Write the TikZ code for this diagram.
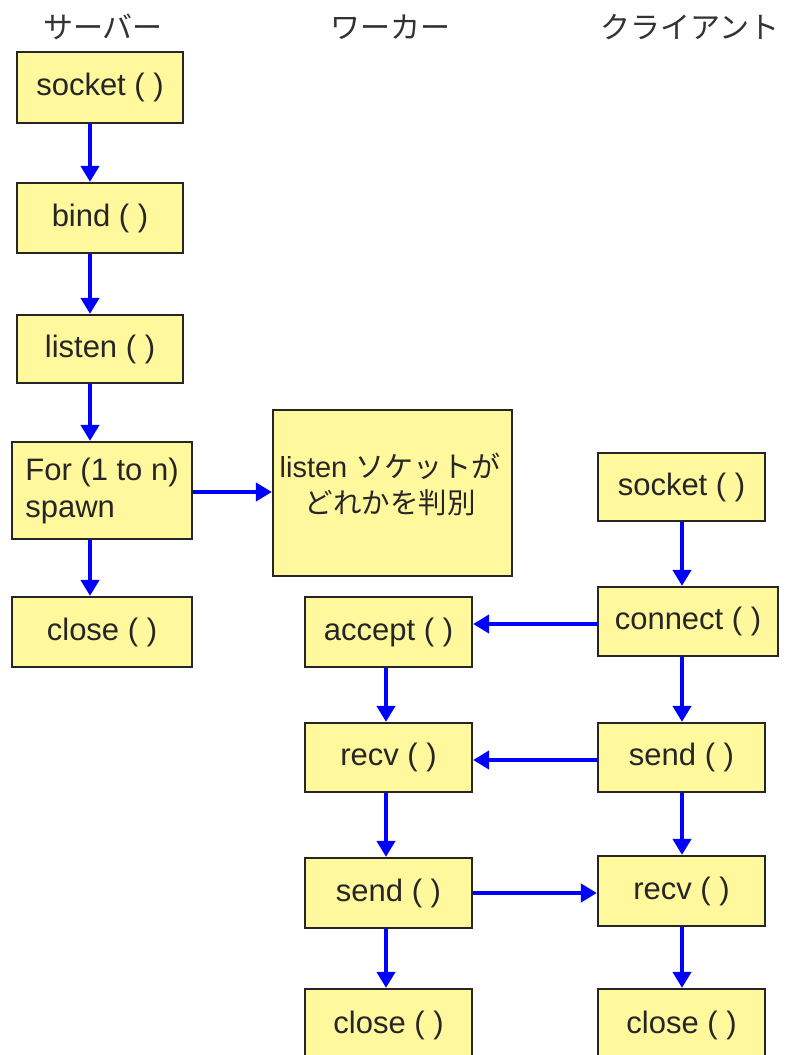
\documentclass[tikz,border=0pt]{standalone}
\usepackage{fontspec}
\setmainfont{Liberation Sans}
\newfontfamily\jp{Noto Sans CJK JP}
\usetikzlibrary{arrows.meta}
\definecolor{boxfill}{HTML}{FFF89C}
\definecolor{arrblue}{HTML}{0000FF}
\newcommand{\bx}[6]{\node[box,minimum width={(#4-#2)*1pt},minimum height={(#5-#3)*1pt}] (#1) at ({(#2+#4)/2},{(#3+#5)/2}) {#6};}
\begin{document}
\begin{tikzpicture}[x=1pt,y=-1pt,
  box/.style={draw=black!85,line width=2.2pt,fill=boxfill,inner sep=0pt,font=\fontsize{31}{37}\selectfont,text=black!85},
  arr/.style={draw=arrblue,line width=4pt,-{Triangle[length=16pt,width=18pt]}},
  hdr/.style={font=\jp\fontsize{30}{36}\selectfont,text=black!80,inner sep=0pt}]
\path[use as bounding box] (0,0) rectangle (786,1055);
\clip (0,0) rectangle (786,1055);
\fill[white] (0,0) rectangle (786,1055);
% headers
\node[hdr] (h1) at (103,27) {サーバー};
\node[hdr] (h2) at (390,27) {ワーカー};
\node[hdr] (h3) at (690,27) {クライアント};
% server
\bx{s1}{17}{52}{183}{123}{socket ( )}
\bx{s2}{17}{183}{183}{253}{bind ( )}
\bx{s3}{17}{315}{183}{383}{listen ( )}
\node[box,minimum width=180pt,minimum height=97pt,align=left] (s4) at (102,490.5) {For (1 to n)\\spawn};
\bx{s5}{12}{597}{192}{667}{close ( )}
% worker
\bx{w0}{273}{410}{512}{576}{}
\node[inner sep=0pt,align=center,font=\fontsize{29}{36}\selectfont,text=black!85] (w0t) at (390,484) {listen {\jp ソケットが}\\{\jp\fontsize{28.5}{36}\selectfont どれかを判別}};
\bx{w1}{305}{597}{472}{667}{accept ( )}
\bx{w2}{305}{723}{472}{792}{recv ( )}
\bx{w3}{305}{858}{472}{928}{send ( )}
\bx{w4}{305}{989}{472}{1062}{close ( )}
% client
\bx{c1}{598}{453}{765}{521}{socket ( )}
\bx{c2}{598}{587}{778}{656}{connect ( )}
\bx{c3}{598}{723}{765}{792}{send ( )}
\bx{c4}{598}{856}{765}{926}{recv ( )}
\bx{c5}{598}{989}{765}{1062}{close ( )}
% arrow lanes
\coordinate (sx) at (90,0);
\coordinate (wx) at (386,0);
\coordinate (cx) at (682,0);
\coordinate (ya) at (0,492);
\coordinate (yb) at (0,624);
\coordinate (yc) at (0,760);
\coordinate (yd) at (0,893);
\draw[arr] (s1.south -| sx) -- (s2.north -| sx);
\draw[arr] (s2.south -| sx) -- (s3.north -| sx);
\draw[arr] (s3.south -| sx) -- (s4.north -| sx);
\draw[arr] (s4.south -| sx) -- (s5.north -| sx);
\draw[arr] (w1.south -| wx) -- (w2.north -| wx);
\draw[arr] (w2.south -| wx) -- (w3.north -| wx);
\draw[arr] (w3.south -| wx) -- (w4.north -| wx);
\draw[arr] (c1.south -| cx) -- (c2.north -| cx);
\draw[arr] (c2.south -| cx) -- (c3.north -| cx);
\draw[arr] (c3.south -| cx) -- (c4.north -| cx);
\draw[arr] (c4.south -| cx) -- (c5.north -| cx);
\draw[arr] (s4.east |- ya) -- (w0.west |- ya);
\draw[arr] (c2.west |- yb) -- (w1.east |- yb);
\draw[arr] (c3.west |- yc) -- (w2.east |- yc);
\draw[arr] (w3.east |- yd) -- (c4.west |- yd);
\end{tikzpicture}
\end{document}
